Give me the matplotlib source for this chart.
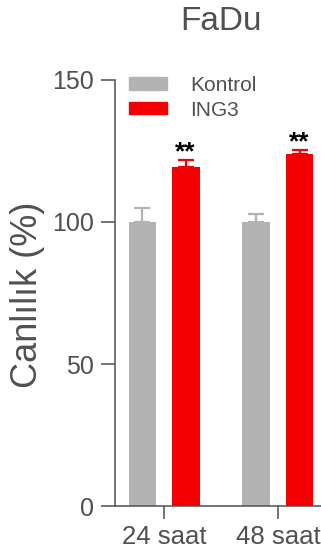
import numpy as np
import matplotlib
matplotlib.use("Agg")
import matplotlib.pyplot as plt
from matplotlib.patches import Patch

plt.rcParams['font.family'] = ['Liberation Sans', 'DejaVu Sans']

# data
groups = ["24 saat", "48 saat"]
series = ["Kontrol", "ING3"]
kontrol_mean = [100.0, 100.0]
kontrol_err = [4.9, 2.8]
ing3_mean = [119.4, 123.9]
ing3_err = [2.5, 1.4]
stars = ["**", "**"]

grey = "#b3b3b3"
red = "#f50000"
ink = "#505050"

fig = plt.figure(figsize=(3.21, 5.58), dpi=100)
W, H = 321, 558
# axes placed in pixel terms, right edge runs past the figure like the cropped original
ax_left, ax_right, ax_bot, ax_top = 115, 327, 52, 478
ax = fig.add_axes([ax_left / W, ax_bot / H, (ax_right - ax_left) / W, (ax_top - ax_bot) / H])

x = np.arange(len(groups))
bw = 0.245
off = 0.189

ax.bar(x - off, kontrol_mean, width=bw, color=grey, zorder=2)
ax.bar(x + off, ing3_mean, width=bw, color=red, zorder=2)
ax.errorbar(x - off, kontrol_mean, yerr=[np.zeros(2), kontrol_err], fmt="none",
            ecolor=grey, elinewidth=1.6, capsize=5.5, capthick=1.6, zorder=1)
ax.errorbar(x + off, ing3_mean, yerr=[np.zeros(2), ing3_err], fmt="none",
            ecolor=red, elinewidth=1.6, capsize=5.5, capthick=1.6, zorder=1)

for xi, m, e, s in zip(x + off, ing3_mean, ing3_err, stars):
    ax.annotate(s, (xi, m + e), xytext=(0, 0.5), textcoords="offset points",
                ha="center", va="baseline", fontsize=19, fontweight="bold", color="black")

ax.set_xlim(-0.43, 1.43)
ax.set_ylim(0, 150)
ax.set_yticks([0, 50, 100, 150])
ax.set_xticks(x)
ax.set_xticklabels(groups)

for sp in ["top", "right"]:
    ax.spines[sp].set_visible(False)
for sp in ["left", "bottom"]:
    ax.spines[sp].set_color(ink)
    ax.spines[sp].set_linewidth(1.1)

ax.tick_params(axis="y", length=10, width=1.1, color=ink, labelcolor=ink, labelsize=18, pad=5)
ax.tick_params(axis="x", length=9, width=1.1, color=ink, labelcolor=ink, labelsize=18.5, pad=5)

fig.text(28 / W, 1 - 295 / H, "Canlılık (%)", rotation=90, ha="center", va="center",
         fontsize=26, color=ink)
fig.text(221 / W, 1 - 21 / H, "FaDu", ha="center", va="center", fontsize=24, color=ink)

handles = [Patch(color=grey), Patch(color=red)]
leg = fig.legend(handles, series, loc="upper left", bbox_to_anchor=(129 / W, 1 - 76 / H),
                 frameon=False, fontsize=15, handlelength=1.83, handleheight=0.53,
                 handletextpad=1.1, labelspacing=0.27, borderpad=0, borderaxespad=0)
for t in leg.get_texts():
    t.set_color(ink)

fig.savefig("out.png", dpi=100)
